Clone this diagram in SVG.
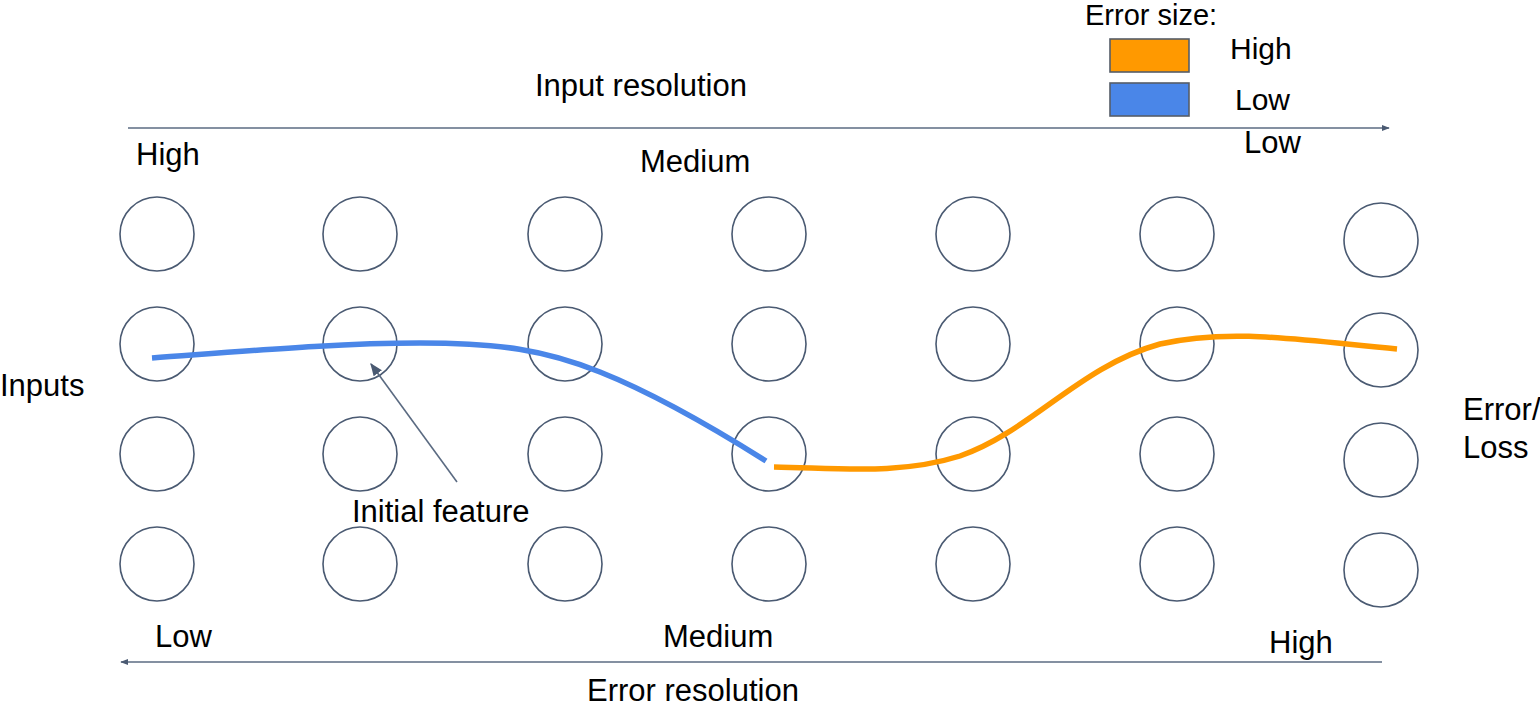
<svg xmlns="http://www.w3.org/2000/svg" width="1540" height="708" viewBox="0 0 1540 708">
<style>
text{font-family:"Liberation Sans",Arial,sans-serif;font-size:31px;fill:#000}
.lg{font-size:30px}
.n{fill:none;stroke:#4a5a72;stroke-width:1.6}
.ax{stroke:#5b6b82;stroke-width:1.6;fill:none}
.cv{fill:none;stroke-width:5.5}
</style>
<defs>
<marker id="ah" viewBox="0 0 10 10" refX="9" refY="5" markerWidth="5" markerHeight="5" orient="auto" markerUnits="strokeWidth"><path d="M0,1 L10,5 L0,9 z" fill="#4a5a72"/></marker>
<marker id="ah2" viewBox="0 0 10 10" refX="9" refY="5" markerWidth="8" markerHeight="8" orient="auto" markerUnits="strokeWidth"><path d="M0,1 L10,5 L0,9 z" fill="#4a5a72"/></marker>
</defs>
<rect width="1540" height="708" fill="#fff"/>
<g id="nodes">
<g id="c1"><circle class="n" cx="157" cy="234" r="37"/><circle class="n" cx="157" cy="344" r="37"/><circle class="n" cx="157" cy="454" r="37"/><circle class="n" cx="157" cy="564" r="37"/></g>
<g id="c2"><circle class="n" cx="360" cy="234" r="37"/><circle class="n" cx="360" cy="344" r="37"/><circle class="n" cx="360" cy="454" r="37"/><circle class="n" cx="360" cy="564" r="37"/></g>
<g id="c3"><circle class="n" cx="565" cy="234" r="37"/><circle class="n" cx="565" cy="344" r="37"/><circle class="n" cx="565" cy="454" r="37"/><circle class="n" cx="565" cy="564" r="37"/></g>
<g id="c4"><circle class="n" cx="769" cy="234" r="37"/><circle class="n" cx="769" cy="344" r="37"/><circle class="n" cx="769" cy="454" r="37"/><circle class="n" cx="769" cy="564" r="37"/></g>
<g id="c5"><circle class="n" cx="973" cy="234" r="37"/><circle class="n" cx="973" cy="344" r="37"/><circle class="n" cx="973" cy="454" r="37"/><circle class="n" cx="973" cy="564" r="37"/></g>
<g id="c6"><circle class="n" cx="1177" cy="234" r="37"/><circle class="n" cx="1177" cy="344" r="37"/><circle class="n" cx="1177" cy="454" r="37"/><circle class="n" cx="1177" cy="564" r="37"/></g>
<g id="c7"><circle class="n" cx="1381" cy="240" r="37"/><circle class="n" cx="1381" cy="350" r="37"/><circle class="n" cx="1381" cy="460" r="37"/><circle class="n" cx="1381" cy="570" r="37"/></g>
</g>
<g id="legend">
<text x="1085" y="25" style="font-size:29px">Error size:</text>
<rect x="1110" y="39" width="79" height="33" fill="#ff9900" stroke="#555d68" stroke-width="1.6"/>
<rect x="1110" y="83" width="79" height="33" fill="#4a86e8" stroke="#555d68" stroke-width="1.6"/>
<text class="lg" x="1230" y="59">High</text>
<text class="lg" x="1235" y="110">Low</text>
</g>
<g id="connectors">
<line class="ax" x1="128" y1="128" x2="1389" y2="128" marker-end="url(#ah)"/>
<line class="ax" x1="1382" y1="662" x2="121" y2="662" marker-end="url(#ah)"/>
<line class="ax" x1="457" y1="482" x2="371" y2="364" marker-end="url(#ah2)"/>
<path class="cv" stroke="#4a86e8" d="M152,358 C260,350 340,343 420,343 C500,343 545,350 600,372 C660,396 720,432 766,461"/>
<path class="cv" stroke="#ff9900" d="M774,467 C840,468 900,475 960,456 C1030,432 1080,366 1160,344 C1230,328 1300,340 1397,349"/>
</g>
<g id="labels">
<text x="535" y="96">Input resolution</text>
<text x="136" y="165">High</text>
<text x="640" y="172">Medium</text>
<text x="1244" y="153">Low</text>
<text x="0" y="396">Inputs</text>
<text x="1463" y="420">Error/</text>
<text x="1463" y="458">Loss</text>
<text x="352" y="522">Initial feature</text>
<text x="155" y="647">Low</text>
<text x="663" y="647">Medium</text>
<text x="1269" y="653">High</text>
<text x="587" y="701">Error resolution</text>
</g>
</svg>
